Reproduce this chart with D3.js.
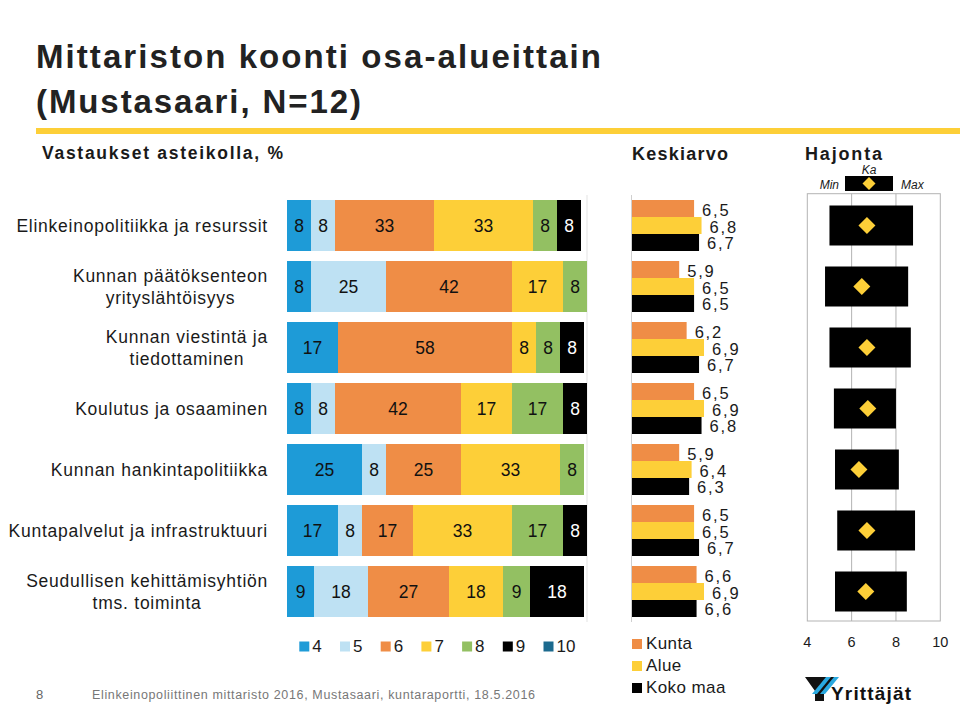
<!DOCTYPE html>
<html>
<head>
<meta charset="utf-8">
<script src="https://cdn.jsdelivr.net/npm/d3@7"></script>
<style>
  html, body { margin: 0; padding: 0; background: #fff; }
  svg { display: block; font-family: "Liberation Sans", Arial, sans-serif; }
</style>
</head>
<body>
<svg id="chart" width="960" height="705"></svg>
<script>
// ---------------- DATA ----------------
const categories = [
  ["Elinkeinopolitiikka ja resurssit"],
  ["Kunnan päätöksenteon", "yrityslähtöisyys"],
  ["Kunnan viestintä ja", "tiedottaminen"],
  ["Koulutus ja osaaminen"],
  ["Kunnan hankintapolitiikka"],
  ["Kuntapalvelut ja infrastruktuuri"],
  ["Seudullisen kehittämisyhtiön", "tms. toiminta"]
];
const scaleKeys = ["4", "5", "6", "7", "8", "9", "10"];
// percentage of answers per scale value (4..10), one array per scale value
const share4  = [8, 8, 17, 8, 25, 17, 9];
const share5  = [8, 25, 0, 8, 8, 8, 18];
const share6  = [33, 42, 58, 42, 25, 17, 27];
const share7  = [33, 17, 8, 17, 33, 33, 18];
const share8  = [8, 8, 8, 17, 8, 17, 9];
const share9  = [8, 0, 8, 8, 0, 8, 18];
const share10 = [0, 0, 0, 0, 0, 0, 0];
const shares = [share4, share5, share6, share7, share8, share9, share10];

const meanSeries = ["Kunta", "Alue", "Koko maa"];
const meanKunta = [6.5, 5.9, 6.2, 6.5, 5.9, 6.5, 6.6];
const meanAlue  = [6.8, 6.5, 6.9, 6.9, 6.4, 6.5, 6.9];
const meanKoko  = [6.7, 6.5, 6.7, 6.8, 6.3, 6.7, 6.6];
const means = [meanKunta, meanAlue, meanKoko];

const spreadMin = [5.0, 4.8, 5.0, 5.2, 5.25, 5.35, 5.25];
const spreadMax = [8.77, 8.55, 8.67, 8.0, 8.13, 8.86, 8.49];
const spreadKa  = [6.69, 6.46, 6.69, 6.73, 6.33, 6.69, 6.64];
const spreadTicks = [4, 6, 8, 10];

// ---------------- STYLE ----------------
const scaleColors = ["#1e9bd7", "#bee1f3", "#ef8d46", "#fdcf38", "#93c062", "#000000", "#1c6a8e"];
const meanColors = ["#ef8d46", "#fdcf38", "#000000"];
const textColor = "#1a1a1a";

const svg = d3.select("#chart");

// helper: stretch text to target width via letter-spacing
function fitWidth(sel, target) {
  const node = sel.node();
  const natural = node.getComputedTextLength();
  const n = node.textContent.length;
  if (n > 1) sel.attr("letter-spacing", ((target - natural) / (n - 1)).toFixed(3));
}

// ---------------- TITLE ----------------
const t1 = svg.append("text").attr("x", 36).attr("y", 68)
  .attr("font-size", 33).attr("font-weight", "bold").attr("fill", "#222")
  .text("Mittariston koonti osa-alueittain");
fitWidth(t1, 565);
const t2 = svg.append("text").attr("x", 36).attr("y", 113)
  .attr("font-size", 33).attr("font-weight", "bold").attr("fill", "#222")
  .text("(Mustasaari, N=12)");
fitWidth(t2, 325);

svg.append("rect").attr("x", 36).attr("y", 128).attr("width", 924).attr("height", 6).attr("fill", "#fdcf38");

const h1 = svg.append("text").attr("x", 42).attr("y", 159)
  .attr("font-size", 17.5).attr("font-weight", "bold").attr("fill", textColor)
  .text("Vastaukset asteikolla, %");
fitWidth(h1, 241);
const h2 = svg.append("text").attr("x", 632).attr("y", 160)
  .attr("font-size", 18).attr("font-weight", "bold").attr("fill", textColor)
  .text("Keskiarvo");
fitWidth(h2, 96);
const h3 = svg.append("text").attr("x", 805).attr("y", 160)
  .attr("font-size", 18).attr("font-weight", "bold").attr("fill", textColor)
  .text("Hajonta");
fitWidth(h3, 77);

// ---------------- SCALES ----------------
const y = d3.scaleBand().domain(d3.range(categories.length))
  .range([195, 622]).paddingInner(0.164).paddingOuter(0.082);
const xStack = d3.scaleLinear().domain([0, 100]).range([287, 587]);
const xMean = d3.scaleLinear().domain([4, 10]).range([632, 781]);
const xSpread = d3.scaleLinear().domain([4, 10]).range([807.3, 940.3]);

// ---------------- ROW LABELS ----------------
categories.forEach((lines, i) => {
  const cy = y(i) + y.bandwidth() / 2;
  const lh = 22;
  const g = svg.append("g");
  const texts = lines.map((ln, j) => g.append("text")
    .attr("font-size", 17.5).attr("letter-spacing", 0.75).attr("fill", textColor)
    .attr("y", cy + 6.5 + (j - (lines.length - 1) / 2) * lh)
    .text(ln));
  const widths = texts.map(t => t.node().getComputedTextLength());
  const W = d3.max(widths);
  texts.forEach((t, j) => t.attr("x", 268 - W / 2 - widths[j] / 2));
});

// ---------------- STACKED BARS ----------------
svg.append("line").attr("x1", xStack(100)).attr("x2", xStack(100))
  .attr("y1", 195).attr("y2", 622).attr("stroke", "#e3e3e3").attr("stroke-width", 1);

const stackRows = categories.map((_, i) => {
  const row = {};
  scaleKeys.forEach((k, s) => row[k] = shares[s][i]);
  return row;
});
const stacked = d3.stack().keys(scaleKeys)(stackRows);
stacked.forEach((layer, s) => {
  const g = svg.append("g");
  layer.forEach((d, i) => {
    const v = d[1] - d[0];
    if (v <= 0) return;
    g.append("rect")
      .attr("x", xStack(d[0])).attr("y", y(i))
      .attr("width", xStack(d[1]) - xStack(d[0])).attr("height", y.bandwidth())
      .attr("fill", scaleColors[s]);
    g.append("text")
      .attr("x", (xStack(d[0]) + xStack(d[1])) / 2)
      .attr("y", y(i) + y.bandwidth() / 2 + 6.5)
      .attr("text-anchor", "middle").attr("font-size", 17.5)
      .attr("fill", s === 5 || s === 6 ? "#fff" : "#111")
      .text(v);
  });
});

// legend for scale values
const legX = d3.scaleLinear().domain([0, scaleKeys.length - 1]).range([299.3, 543.5]);
scaleKeys.forEach((k, s) => {
  svg.append("rect").attr("x", legX(s)).attr("y", 641.5).attr("width", 10).attr("height", 10)
    .attr("fill", scaleColors[s]);
  svg.append("text").attr("x", legX(s) + 13).attr("y", 652)
    .attr("font-size", 17).attr("fill", textColor).text(k);
});

// ---------------- MEAN BARS ----------------
const sub = d3.scaleBand().domain(d3.range(meanSeries.length)).range([0, y.bandwidth()]);
svg.append("line").attr("x1", xMean(4) - 0.5).attr("x2", xMean(4) - 0.5)
  .attr("y1", 195).attr("y2", 622).attr("stroke", "#cfcfcf");
means.forEach((series, s) => {
  series.forEach((v, i) => {
    const yy = y(i) + sub(s);
    svg.append("rect").attr("x", xMean(4)).attr("y", yy)
      .attr("width", xMean(v) - xMean(4)).attr("height", sub.bandwidth())
      .attr("fill", meanColors[s]);
    svg.append("text").attr("x", xMean(v) + 8).attr("y", yy + sub.bandwidth() / 2 + 7)
      .attr("font-size", 16.5).attr("letter-spacing", 1.8).attr("fill", textColor)
      .text(d3.format(".1f")(v).replace(".", ","));
  });
});
// legend for means
meanSeries.forEach((name, s) => {
  const ly = 649 + s * 22;
  svg.append("rect").attr("x", 632).attr("y", ly - 10).attr("width", 10).attr("height", 10)
    .attr("fill", meanColors[s]);
  svg.append("text").attr("x", 646).attr("y", ly).attr("font-size", 17)
    .attr("letter-spacing", 0.4).attr("fill", textColor).text(name);
});

// ---------------- SPREAD PANEL ----------------
svg.append("rect").attr("x", xSpread(4)).attr("y", 193.7)
  .attr("width", xSpread(10) - xSpread(4)).attr("height", 621 - 193.7)
  .attr("fill", "none").attr("stroke", "#b3b3b3").attr("stroke-width", 1);
[6, 8].forEach(v => svg.append("line").attr("x1", xSpread(v)).attr("x2", xSpread(v))
  .attr("y1", 193.7).attr("y2", 621).attr("stroke", "#b3b3b3"));
spreadTicks.forEach(v => svg.append("text").attr("x", xSpread(v)).attr("y", 647)
  .attr("text-anchor", "middle").attr("font-size", 14.5).attr("fill", textColor).text(v));

const diamond = (cx, cy, r) => `M${cx},${cy - r}L${cx + r},${cy}L${cx},${cy + r}L${cx - r},${cy}Z`;
categories.forEach((_, i) => {
  const cy = y(i) + y.bandwidth() / 2;
  svg.append("rect").attr("x", xSpread(spreadMin[i])).attr("y", cy - 20)
    .attr("width", xSpread(spreadMax[i]) - xSpread(spreadMin[i])).attr("height", 40)
    .attr("fill", "#000");
  svg.append("path").attr("d", diamond(xSpread(spreadKa[i]), cy, 8.5)).attr("fill", "#fdcf38");
});
// spread legend
svg.append("rect").attr("x", 845).attr("y", 176).attr("width", 48).attr("height", 15).attr("fill", "#000");
svg.append("path").attr("d", diamond(869, 183.5, 6.5)).attr("fill", "#fdcf38");
svg.append("text").attr("x", 869).attr("y", 174).attr("text-anchor", "middle")
  .attr("font-size", 12).attr("font-style", "italic").attr("fill", textColor).text("Ka");
svg.append("text").attr("x", 839).attr("y", 188.5).attr("text-anchor", "end")
  .attr("font-size", 12).attr("font-style", "italic").attr("fill", textColor).text("Min");
svg.append("text").attr("x", 901).attr("y", 188.5)
  .attr("font-size", 12).attr("font-style", "italic").attr("fill", textColor).text("Max");

// ---------------- FOOTER ----------------
svg.append("text").attr("x", 36).attr("y", 699).attr("font-size", 13).attr("fill", "#666").text("8");
const ft = svg.append("text").attr("x", 92).attr("y", 699).attr("font-size", 12.5).attr("fill", "#777")
  .text("Elinkeinopoliittinen mittaristo 2016, Mustasaari, kuntaraportti, 18.5.2016");
fitWidth(ft, 443);

// logo
const logo = svg.append("g");
logo.append("path").attr("d", "M805,677L838,677L824,691L824,701L815,701L815,691Z").attr("fill", "#111");
logo.append("path").attr("d", "M826,677L831,677L817,694L812,694Z").attr("fill", "#29a9e0");
logo.append("path").attr("d", "M834,677L839,677L825,694L820,694Z").attr("fill", "#29a9e0");
const lt = logo.append("text").attr("x", 831).attr("y", 700).attr("font-size", 19)
  .attr("font-weight", "bold").attr("fill", "#111").text("Yrittäjät");
fitWidth(lt, 80);
</script>
</body>
</html>
